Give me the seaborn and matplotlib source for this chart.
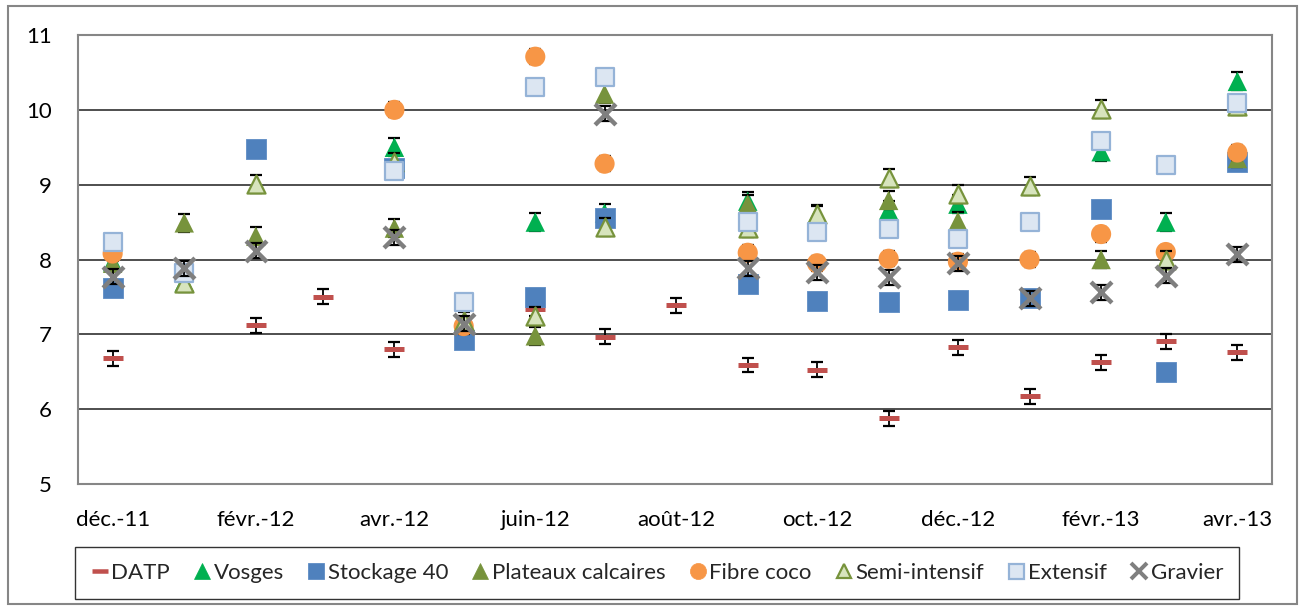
import numpy as np
import pandas as pd
import matplotlib
matplotlib.use("Agg")
import matplotlib.pyplot as plt
from matplotlib.lines import Line2D
from matplotlib.patches import Rectangle
import seaborn as sns

nan = np.nan

# Monthly sampling dates
months = pd.date_range("2011-12-01", "2013-04-01", freq="MS")
tick_labels = ["déc.-11", "févr.-12", "avr.-12", "juin-12", "août-12",
               "oct.-12", "déc.-12", "févr.-13", "avr.-13"]

series_names = ["DATP", "Vosges", "Stockage 40", "Plateaux calcaires",
                "Fibre coco", "Semi-intensif", "Extensif", "Gravier"]

datp = [6.68, nan, 7.12, 7.50, 6.80, nan, 7.34, 6.97, 7.39,
        6.59, 6.53, 5.88, 6.83, 6.17, 6.63, 6.91, 6.76]
vosges = [7.97, 7.70, nan, nan, 9.50, nan, 8.50, 8.62, nan,
          8.78, 8.60, 8.66, 8.74, nan, 9.44, 8.50, 10.38]
stockage40 = [7.62, nan, 9.47, nan, 9.22, 6.92, 7.50, 8.55, nan,
              7.67, 7.45, 7.43, 7.46, 7.49, 8.68, 6.49, 9.30]
plateaux = [7.95, 8.49, 8.31, nan, 8.42, nan, 6.98, 10.21, nan,
            8.74, nan, 8.79, 8.51, nan, 8.00, nan, 9.35]
fibre_coco = [8.08, nan, nan, nan, 10.00, 7.11, 10.71, 9.28, nan,
              8.09, 7.95, 8.01, 7.97, 8.00, 8.34, 8.10, 9.43]
semi_intensif = [nan, 7.68, 9.01, nan, 9.30, 7.18, 7.24, 8.44, nan,
                 8.42, 8.61, 9.09, 8.87, 8.98, 10.01, 8.00, 10.05]
extensif = [8.23, 7.82, nan, nan, 9.18, 7.43, 10.30, 10.44, nan,
            8.50, 8.37, 8.41, 8.27, 8.50, 9.59, 9.26, 10.09]
gravier = [7.77, 7.88, 8.12, nan, 8.30, 7.14, nan, 9.95, nan,
           7.88, 7.83, 7.76, 7.95, 7.48, 7.56, 7.78, 8.07]

# Half-width of the error bars for each series
errors = [0.10, 0.12, 0.10, 0.12, 0.10, 0.12, 0.10, 0.10]

values = [datp, vosges, stockage40, plateaux, fibre_coco,
          semi_intensif, extensif, gravier]

styles = [
    dict(marker="_", s=14.5 ** 2, color="#C0504D", edgecolor="#C0504D", linewidth=3.6),
    dict(marker="^", s=14 ** 2, color="#00B050", edgecolor="none", linewidth=0),
    dict(marker="s", s=14.5 ** 2, color="#4F81BD", edgecolor="#5E8CC4", linewidth=0.6),
    dict(marker="^", s=14 ** 2, color="#77933C", edgecolor="none", linewidth=0),
    dict(marker="o", s=14.5 ** 2, color="#F79646", edgecolor="none", linewidth=0),
    dict(marker="^", s=13 ** 2, color="#D7E4BD", edgecolor="#77933C", linewidth=1.6),
    dict(marker="s", s=13.5 ** 2, color="#DCE6F2", edgecolor="#95B3D7", linewidth=1.6),
    dict(marker="x", s=15 ** 2, color="#7F7F7F", edgecolor="#7F7F7F", linewidth=3.2),
]

sns.set_theme(style="white")
plt.rcParams["font.family"] = ["Lato", "DejaVu Sans"]
FS = 16

fig = plt.figure(figsize=(13.05, 6.10), dpi=100)
ax = fig.add_axes([78 / 1305, 1 - 484 / 610, (1272 - 78) / 1305, (484 - 35) / 610])

for i, (name, vals, st) in enumerate(zip(series_names, values, styles)):
    y = np.array(vals, dtype=float)
    ax.errorbar(months, y, yerr=errors[i], fmt="none", ecolor="black",
                elinewidth=1.3, capsize=4.3, capthick=1.6, zorder=3 + 2 * i)
    sns.scatterplot(x=months, y=y, ax=ax, legend=False, zorder=4 + 2 * i, **st)

ax.set_xlim(months[0] - pd.Timedelta(days=15), months[-1] + pd.Timedelta(days=15))
ax.set_ylim(5, 11)
ax.set_yticks(np.arange(5, 12, 1))
ax.set_xticks(months[::2])
ax.set_xticklabels(tick_labels)
ax.set_xlabel("")
ax.set_ylabel("")
ax.tick_params(axis="both", length=0, labelsize=FS, colors="black")
ax.tick_params(axis="y", pad=19)
ax.tick_params(axis="x", pad=19)

ax.set_axisbelow(True)
ax.yaxis.grid(True, color="#303030", linewidth=1.2)
ax.xaxis.grid(False)
for sp in ax.spines.values():
    sp.set_visible(True)
    sp.set_color("#868686")
    sp.set_linewidth(1.5)

handles = []
for st in styles:
    m = st["marker"]
    ms = np.sqrt(st["s"]) * 0.8
    if m in ("_", "x"):
        h = Line2D([], [], linestyle="none", marker=m, markersize=ms,
                   color=st["color"], markeredgewidth=st["linewidth"] * 0.9)
    else:
        ec = st["edgecolor"] if st["edgecolor"] != "none" else st["color"]
        h = Line2D([], [], linestyle="none", marker=m, markersize=ms,
                   markerfacecolor=st["color"], markeredgecolor=ec,
                   markeredgewidth=max(st["linewidth"], 0.5))
    handles.append(h)

leg = fig.legend(handles, series_names, loc="center", ncol=8,
                 bbox_to_anchor=(657 / 1305, 1 - 573 / 610),
                 bbox_transform=fig.transFigure, frameon=True, fancybox=False,
                 fontsize=FS, handlelength=0.8, handletextpad=0.12,
                 columnspacing=1.05, borderpad=0.7, borderaxespad=0)
leg.get_frame().set_edgecolor("black")
leg.get_frame().set_linewidth(1.0)

# Outer chart border
fig.patches.append(Rectangle((8 / 1305, 6 / 610), (1297 - 8) / 1305, (604 - 6) / 610,
                             transform=fig.transFigure, fill=False,
                             edgecolor="#868686", linewidth=1.5))

fig.savefig("out.png", dpi=100)
